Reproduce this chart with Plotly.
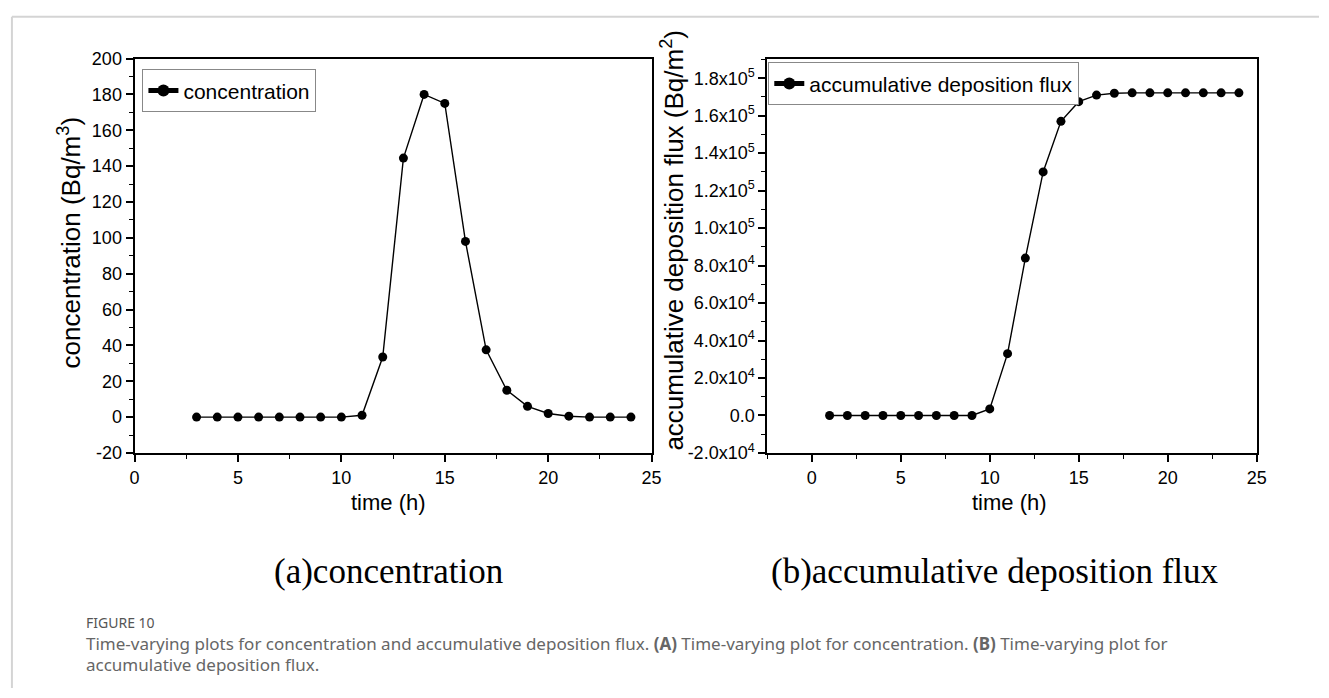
import plotly.graph_objects as go

# ---------------- data ----------------
conc_time = [3, 4, 5, 6, 7, 8, 9, 10, 11, 12, 13, 14, 15, 16, 17, 18, 19, 20, 21, 22, 23, 24]
conc_values = [0, 0, 0, 0, 0, 0, 0, 0, 1, 33.5, 144.5, 180, 175, 98, 37.5, 15, 6, 2, 0.5, 0, 0, 0]

flux_time = [1, 2, 3, 4, 5, 6, 7, 8, 9, 10, 11, 12, 13, 14, 15, 16, 17, 18, 19, 20, 21, 22, 23, 24]
flux_values = [0, 0, 0, 0, 0, 0, 0, 0, 0, 3500, 33000, 84000, 130000, 157000, 167500,
               171000, 172000, 172200, 172200, 172200, 172200, 172200, 172200, 172200]

left_xticks = [0, 5, 10, 15, 20, 25]
left_yticks = [-20, 0, 20, 40, 60, 80, 100, 120, 140, 160, 180, 200]
left_yticktext = ["-20", "0", "20", "40", "60", "80", "100", "120", "140", "160", "180", "200"]
right_xticks = [0, 5, 10, 15, 20, 25]
right_yticks = [-20000, 0, 20000, 40000, 60000, 80000, 100000, 120000, 140000, 160000, 180000]
right_yticktext = ["-2.0x10<sup>4</sup>", "0.0", "2.0x10<sup>4</sup>", "4.0x10<sup>4</sup>",
                   "6.0x10<sup>4</sup>", "8.0x10<sup>4</sup>", "1.0x10<sup>5</sup>",
                   "1.2x10<sup>5</sup>", "1.4x10<sup>5</sup>", "1.6x10<sup>5</sup>",
                   "1.8x10<sup>5</sup>"]

W, H = 1329, 698

def px_x(p):
    return p / W

def px_y(p):
    return 1 - p / H

fig = go.Figure()

fig.add_trace(go.Scatter(
    x=conc_time, y=conc_values, mode="lines+markers", name="concentration",
    line=dict(color="black", width=1.4), marker=dict(color="black", size=9),
    xaxis="x", yaxis="y", legend="legend"))

fig.add_trace(go.Scatter(
    x=flux_time, y=flux_values, mode="lines+markers", name="accumulative deposition flux",
    line=dict(color="black", width=1.4), marker=dict(color="black", size=9),
    xaxis="x2", yaxis="y2", legend="legend2"))

tickfont = dict(family="Arial, Liberation Sans, sans-serif", size=18, color="black")
axis_common = dict(showline=True, linecolor="black", linewidth=2, mirror=True,
                   ticks="outside", ticklen=7, tickwidth=1.5, tickcolor="black",
                   showgrid=False, zeroline=False, tickfont=tickfont)

ydom = [px_y(456), px_y(50)]
legend_font = dict(family="Arial, Liberation Sans, sans-serif", size=21, color="black")

fig.update_layout(
    width=W, height=H,
    margin=dict(l=0, r=0, t=0, b=0),
    paper_bgcolor="white", plot_bgcolor="white",
    xaxis=dict(domain=[px_x(131), px_x(654)], range=[0, 25], tickvals=left_xticks,
               anchor="y",
               minor=dict(ticks="outside", ticklen=4, tickwidth=1.2, dtick=2.5, tick0=0,
                          tickcolor="black", showgrid=False),
               **axis_common),
    yaxis=dict(domain=ydom, range=[-20, 200], tickvals=left_yticks, ticktext=left_yticktext,
               anchor="x",
               minor=dict(ticks="outside", ticklen=4, tickwidth=1.2, dtick=10, tick0=0,
                          tickcolor="black", showgrid=False),
               **axis_common),
    xaxis2=dict(domain=[px_x(771), px_x(1266)], range=[-2.5, 25], tickvals=right_xticks,
                anchor="y2",
                minor=dict(ticks="outside", ticklen=4, tickwidth=1.2, dtick=2.5, tick0=0,
                           tickcolor="black", showgrid=False),
                **axis_common),
    yaxis2=dict(domain=ydom, range=[-20000, 190500], tickvals=right_yticks,
                ticktext=right_yticktext, anchor="x2",
                minor=dict(ticks="outside", ticklen=4, tickwidth=1.2, dtick=10000, tick0=0,
                           tickcolor="black", showgrid=False),
                **axis_common),
    legend=dict(x=px_x(139), y=px_y(61), xanchor="left", yanchor="top",
                bgcolor="white", bordercolor="#888888", borderwidth=1,
                font=legend_font, tracegroupgap=0, itemsizing="constant"),
    legend2=dict(x=px_x(772), y=px_y(54), xanchor="left", yanchor="top",
                 bgcolor="white", bordercolor="#888888", borderwidth=1,
                 font=legend_font, tracegroupgap=0, itemsizing="constant"),
    showlegend=True,
)

title_font = dict(family="Arial, Liberation Sans, sans-serif", size=26, color="black")
xtitle_font = dict(family="Arial, Liberation Sans, sans-serif", size=22, color="black")
serif_font = dict(family="Times New Roman, Liberation Serif, serif", size=35, color="black")
cap_font = dict(family="Noto Sans, sans-serif", size=17, color="#666666")

annotations = [
    dict(text="concentration (Bq/m<sup>3</sup>)", x=px_x(65), y=px_y(240), textangle=-90,
         font=title_font),
    dict(text="accumulative deposition flux (Bq/m<sup>2</sup>)", x=px_x(675), y=px_y(237),
         textangle=-90, font=title_font),
    dict(text="time (h)", x=px_x(388), y=px_y(507), font=xtitle_font),
    dict(text="time (h)", x=px_x(1016), y=px_y(507), font=xtitle_font),
    dict(text="(a)concentration", x=px_x(388), y=px_y(578), font=serif_font),
    dict(text="(b)accumulative deposition flux", x=px_x(1001), y=px_y(578), font=serif_font),
    dict(text="FIGURE 10", x=px_x(80), y=px_y(631), xanchor="left",
         font=dict(family="Noto Sans, sans-serif", size=14, color="#555555")),
    dict(text="Time-varying plots for concentration and accumulative deposition flux. "
              "<b>(A)</b> Time-varying plot for concentration. <b>(B)</b> Time-varying plot for",
         x=px_x(80), y=px_y(652), xanchor="left", font=cap_font),
    dict(text="accumulative deposition flux.", x=px_x(80), y=px_y(674), xanchor="left",
         font=cap_font),
]
for a in annotations:
    a.update(xref="paper", yref="paper", showarrow=False)
    a.setdefault("xanchor", "center")
    a.setdefault("yanchor", "middle")
fig.update_layout(annotations=annotations)

fig.update_layout(shapes=[
    dict(type="line", xref="paper", yref="paper", x0=px_x(7), x1=1, y0=px_y(7), y1=px_y(7),
         line=dict(color="#d4d4d4", width=2)),
    dict(type="line", xref="paper", yref="paper", x0=px_x(7), x1=px_x(7), y0=0, y1=px_y(7),
         line=dict(color="#d4d4d4", width=2)),
])

fig.write_html("out.html")
